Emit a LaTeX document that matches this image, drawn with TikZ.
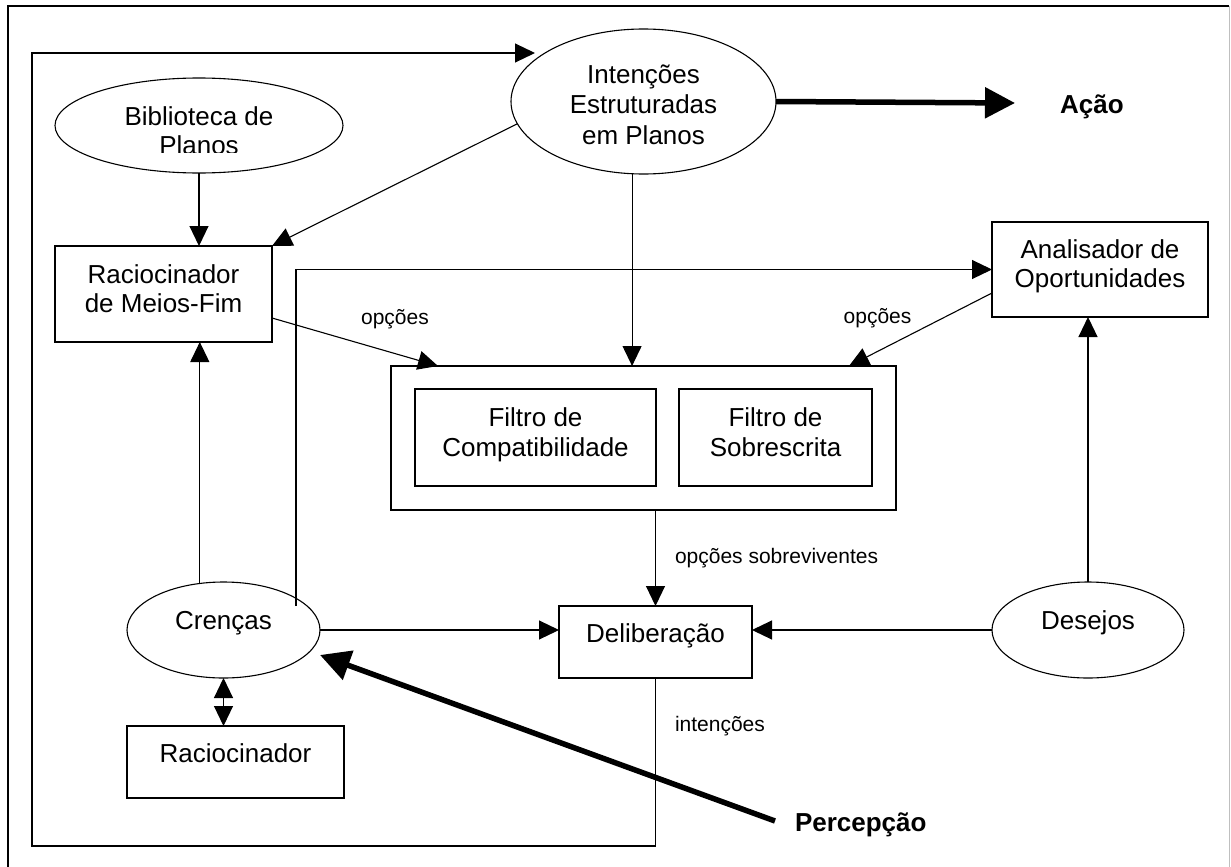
\documentclass[tikz,border=0pt]{standalone}
\usepackage{fontspec}
\setmainfont{Liberation Sans}
\usetikzlibrary{arrows.meta,shapes.geometric,calc}

\begin{document}
\begin{tikzpicture}[x=1pt,y=-1pt,
  every node/.style={inner sep=0pt,outer sep=0pt},
  line/.style={line width=1.1pt,draw=black},
  arr/.style={line,-{Triangle[length=20pt,width=19pt]}},
  dblarr/.style={line,{Triangle[length=20pt,width=19pt]}-{Triangle[length=20pt,width=19pt]}},
  bigarr/.style={line width=5.5pt,-{Triangle[length=30pt,width=30pt]}},
  box/.style={draw,line width=1.1pt,rectangle},
  oval/.style={draw,line width=1.1pt,ellipse},
  txt/.style={font=\fontsize{26}{30}\selectfont,anchor=base},
  lbl/.style={font=\fontsize{21}{25}\selectfont,anchor=base},
  bold/.style={font=\fontsize{26}{30}\selectfont\bfseries,anchor=base}]

\useasboundingbox (0,0) rectangle (1231,867);

% frame
\draw[line] (8,870) -- (8,6) -- (1229,6);
\draw[black!25,line width=1pt] (1229,6) -- (1229,870);

% shapes
\node[oval,minimum width=288pt,minimum height=95pt] (bib) at (199,125.5) {};
\node[oval,minimum width=265pt,minimum height=145pt] (int) at (643.5,101.5) {};
\node[oval,minimum width=193pt,minimum height=96pt] (cre) at (223.5,630) {};
\node[oval,minimum width=192pt,minimum height=96pt] (des) at (1088,630) {};

\node[box,minimum width=217pt,minimum height=96pt] (mf) at (163.5,294) {};
\node[box,minimum width=216pt,minimum height=95pt] (ana) at (1100,269.5) {};
\node[box,minimum width=505pt,minimum height=144pt] (filt) at (643.5,438) {};
\node[box,minimum width=241pt,minimum height=97pt] (comp) at (535.5,437.5) {};
\node[box,minimum width=193pt,minimum height=97pt] (sob) at (775.5,437.5) {};
\node[box,minimum width=193pt,minimum height=72pt] (del) at (655.5,642) {};
\node[box,minimum width=217pt,minimum height=72pt] (rac) at (235.5,762) {};

% texts
\begin{scope}
  \clip (55,78) rectangle (343,152);
  \node[txt] (bibA) at (199,125) {Biblioteca de};
  \node[txt] (bibB) at (199,154) {Planos};
\end{scope}
\node[txt] (intA) at (643.5,83) {Intenções};
\node[txt] (intB) at (643.5,113) {Estruturadas};
\node[txt] (intC) at (643.5,144) {em Planos};
\node[txt] (mfA) at (163.5,283) {Raciocinador};
\node[txt] (mfB) at (163.5,312) {de Meios-Fim};
\node[txt] (anaA) at (1100,258) {Analisador de};
\node[txt] (anaB) at (1100,287) {Oportunidades};
\node[txt] (compA) at (535.5,426) {Filtro de};
\node[txt] (compB) at (535.5,456) {Compatibilidade};
\node[txt] (sobA) at (775.5,426) {Filtro de};
\node[txt] (sobB) at (775.5,456) {Sobrescrita};
\node[txt] (delT) at (655.5,642) {Deliberação};
\node[txt] (creT) at (223.5,629) {Crenças};
\node[txt] (desT) at (1088,629) {Desejos};
\node[txt] (racT) at (235.5,762) {Raciocinador};
\node[bold] (acao) at (1092,113) {Ação};
\node[bold,anchor=base west] (perc) at (795,831) {Percepção};

\node[lbl] (opA) at (395,324) {opções};
\node[lbl] (opB) at (877.5,323) {opções};
\node[lbl,anchor=base west] (opS) at (675,563) {opções sobreviventes};
\node[lbl,anchor=base west] (intn) at (675,731) {intenções};

% free ends
\coordinate (acaotip) at (1015,103);
\coordinate (percstart) at (775,821);
\coordinate (perctip) at (320,655);
\coordinate (cretop) at (296,606);
\coordinate (loopbl) at (32,846);
\coordinate (looptl) at (32,53);
\coordinate (looptip) at (535,53);

% connectors
\draw[arr] (bib.south) -- (bib.south |- mf.north);
\draw[arr] (int.190) -- (mf.north east);
\draw[arr] (int.261) -- (int.261 |- filt.north);
\draw[bigarr] (int.east) -- (acaotip);
\draw[arr] (cretop) |- (ana.west);
\draw[arr] ($(ana.west)+(0,23.5)$) -- ($(filt.north east)+(-47,0)$);
\draw[arr] ($(mf.east)+(0,24)$) -- ($(filt.north west)+(47,0)$);
\draw[arr] (del.north |- filt.south) -- (del.north);
\draw[arr] (cre.east) -- (cre.east -| del.west);
\draw[arr] (des.west) -- (des.west -| del.east);
\draw[arr] (des.north) -- (des.north |- ana.south);
\draw[arr] (cre.117) -- (cre.117 |- mf.south);
\draw[dblarr] (cre.south) -- (cre.south |- rac.north);
\draw[bigarr] (percstart) -- (perctip);
\draw[arr] (del.south) |- (loopbl) -- (looptl) -- (looptip);
\end{tikzpicture}
\end{document}
